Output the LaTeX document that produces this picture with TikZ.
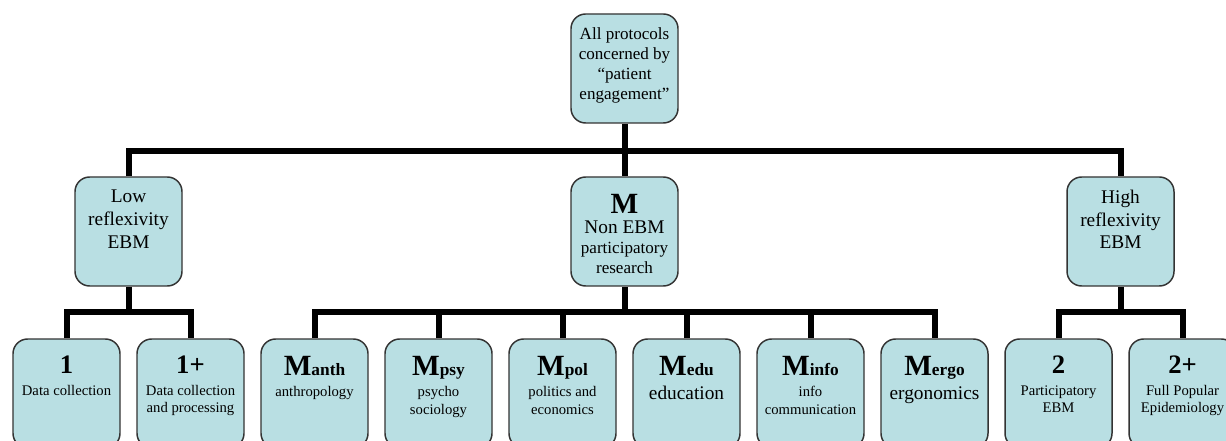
\documentclass[tikz,border=0pt]{standalone}
\usepackage{fontspec}
\setmainfont{Liberation Serif}
\usetikzlibrary{backgrounds}
\definecolor{boxblue}{RGB}{185,223,227}
% text inside a box, pushed to the top
\newcommand{\boxtext}[1]{\parbox[c][62pt][t]{80pt}{\centering #1}}
\newcommand{\lowtext}[1]{\boxtext{\vspace*{3pt}#1}}
\newcommand{\codenum}[1]{{\fontsize{20}{22}\selectfont\bfseries #1}}
\newcommand{\codem}[1]{{\fontsize{22}{24}\selectfont\bfseries M}{\fontsize{13}{15}\selectfont\bfseries #1}}
\newcommand{\smalltxt}{\fontsize{11}{13}\selectfont}
\newcommand{\midtxt}{\fontsize{14.5}{17}\selectfont}
\begin{document}
\begin{tikzpicture}[x=0.75pt,y=-0.75pt,
    box/.style={draw=black!80,line width=1.1pt,fill=boxblue,rounded corners=11pt,
      minimum width=80.25pt,minimum height=81.75pt,inner sep=0pt},
    link/.style={line width=4.5pt}]
  \useasboundingbox (0,0) rectangle (1226,441);
  \clip (0,0) rectangle (1226,441);
  %\draw[color=gray, style=dotted] (0,0) grid[step=100] (1226,441);

  % levels
  \node (top) at (624.5,68.5) [box]
    {\boxtext{\fontsize{12.8}{15}\selectfont All protocols\\concerned by\\“patient\\engagement”}};
  \node (low) at (128.5,231.5) [box] {\boxtext{\midtxt Low\\reflexivity\\EBM}};
  \node (m) at (624.5,231.5) [box]
    {\lowtext{\fontsize{12.8}{15}\selectfont{\fontsize{22}{24}\selectfont\bfseries M}\\{\midtxt Non EBM}\\participatory\\research}};
  \node (high) at (1120.5,231.5) [box] {\boxtext{\midtxt High\\reflexivity\\EBM}};

  \node (b1) at (66.5,393.5) [box] {\lowtext{\smalltxt\codenum{1}\\[3pt]Data collection}};
  \node (b2) at (190.5,393.5) [box] {\lowtext{\smalltxt\codenum{1+}\\[3pt]Data collection\\and processing}};
  \node (b3) at (314.5,393.5) [box] {\lowtext{\smalltxt\codem{anth}\\[3pt]anthropology}};
  \node (b4) at (438.5,393.5) [box] {\lowtext{\smalltxt\codem{psy}\\[3pt]psycho\\sociology}};
  \node (b5) at (562.5,393.5) [box] {\lowtext{\smalltxt\codem{pol}\\[3pt]politics and\\economics}};
  \node (b6) at (686.5,393.5) [box] {\lowtext{\smalltxt\codem{edu}\\[5pt]{\midtxt education}}};
  \node (b7) at (810.5,393.5) [box] {\lowtext{\smalltxt\codem{info}\\[3pt]info\\communication}};
  \node (b8) at (934.5,393.5) [box] {\lowtext{\smalltxt\codem{ergo}\\[5pt]{\midtxt ergonomics}}};
  \node (b9) at (1058.5,393.5) [box] {\lowtext{\smalltxt\codenum{2}\\[3pt]Participatory\\EBM}};
  \node (b10) at (1182.5,393.5) [box] {\lowtext{\smalltxt\codenum{2+}\\[3pt]Full Popular\\Epidemiology}};

  % buses
  \coordinate (bus1) at (624.5,151);
  \coordinate (bus2) at (624.5,312);

  \begin{scope}[on background layer]
    \draw[link] (low.north) |- (bus1) -| (high.north);
    \draw[link] (top.south) -- (m.north);
    \draw[link] (low.south) -- (low.south |- bus2);
    \draw[link] (b1.north) |- (low.south |- bus2) -| (b2.north);
    \draw[link] (high.south) -- (high.south |- bus2);
    \draw[link] (b9.north) |- (high.south |- bus2) -| (b10.north);
    \draw[link] (m.south) -- (bus2);
    \draw[link] (b3.north) |- (bus2) -| (b8.north);
    \foreach \i in {4,...,7}
      \draw[link] (b\i.north) -- (b\i.north |- bus2);
  \end{scope}
\end{tikzpicture}
\end{document}
